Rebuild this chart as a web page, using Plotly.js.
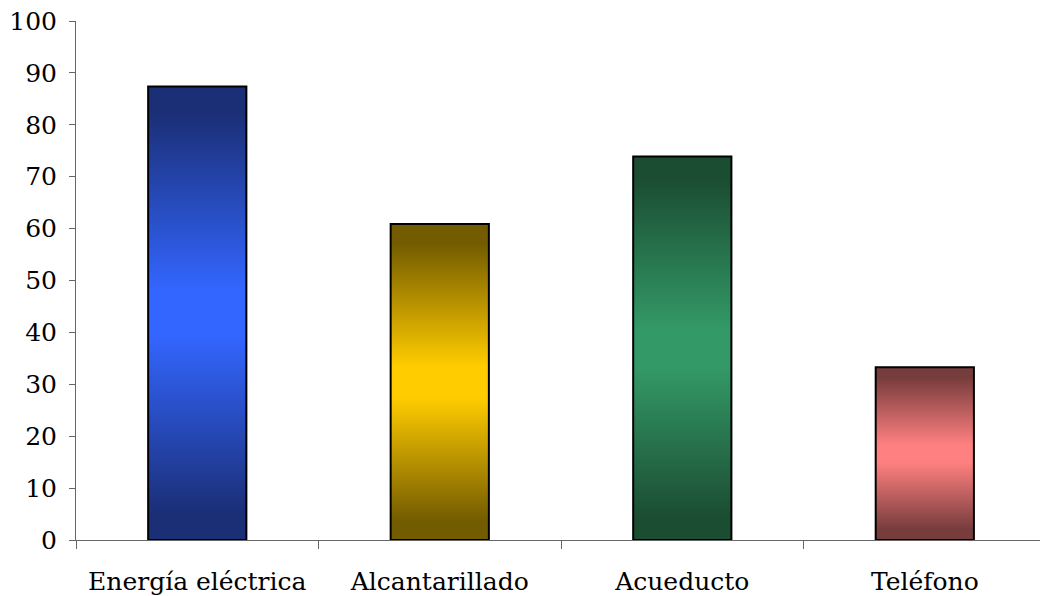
<!DOCTYPE html>
<html>
<head>
<meta charset="utf-8">
<script src="https://cdn.plot.ly/plotly-3.0.1.min.js"></script>
<style>html,body{margin:0;padding:0;background:#fff}#chart{width:1040px;height:596px}</style>
</head>
<body>
<div id="chart"></div>
<script>
const categories = ["Energía eléctrica", "Alcantarillado", "Acueducto", "Teléfono"];
const values = [87.4, 60.9, 73.9, 33.3];
const darkColors = ["#1b2f77", "#735b00", "#1b4d33", "#773c3c"];
const lightColors = ["#3366ff", "#ffcc00", "#339966", "#ff8080"];
const yTicks = [0, 10, 20, 30, 40, 50, 60, 70, 80, 90, 100];

const font = {family: "DejaVu Serif, serif", size: 25, color: "#000"};

const trace = {
  type: "bar",
  x: categories,
  y: values,
  width: 0.405,
  marker: {color: lightColors, line: {color: "#000", width: 2}},
  hoverinfo: "none"
};

const layout = {
  width: 1040, height: 596,
  margin: {l: 76, r: 0, t: 21, b: 56, pad: 0},
  paper_bgcolor: "#fff", plot_bgcolor: "#fff",
  showlegend: false,
  font: font,
  xaxis: {
    type: "category",
    range: [-0.5, 3.475],
    showline: true, linecolor: "#666", linewidth: 1,
    ticks: "outside", tickson: "boundaries", ticklen: 8, tickcolor: "#666", tickwidth: 1,
    ticklabelstandoff: 19,
    showgrid: false, zeroline: false,
    tickfont: font
  },
  yaxis: {
    range: [0, 100],
    tickvals: yTicks,
    ticktext: yTicks.map(String),
    showline: true, linecolor: "#666", linewidth: 1,
    ticks: "outside", ticklen: 6, tickcolor: "#666", tickwidth: 1,
    ticklabelstandoff: 7,
    showgrid: false, zeroline: false,
    tickfont: font
  }
};

Plotly.newPlot("chart", [trace], layout, {staticPlot: true, displayModeBar: false}).then(gd => {
  const svg = gd.querySelector("svg.main-svg");
  const ns = "http://www.w3.org/2000/svg";
  let defs = svg.querySelector("defs");
  if (!defs) { defs = document.createElementNS(ns, "defs"); svg.insertBefore(defs, svg.firstChild); }
  categories.forEach((c, i) => {
    const g = document.createElementNS(ns, "linearGradient");
    g.setAttribute("id", "barGrad" + i);
    g.setAttribute("x1", "0"); g.setAttribute("y1", "0");
    g.setAttribute("x2", "0"); g.setAttribute("y2", "1");
    [[0, darkColors[i]], [0.06, darkColors[i]], [0.45, lightColors[i]], [0.55, lightColors[i]], [0.94, darkColors[i]], [1, darkColors[i]]].forEach(([o, col]) => {
      const s = document.createElementNS(ns, "stop");
      s.setAttribute("offset", o);
      s.setAttribute("stop-color", col);
      g.appendChild(s);
    });
    defs.appendChild(g);
  });
  const paths = gd.querySelectorAll(".barlayer .point path");
  paths.forEach((p, i) => { p.style.fill = "url(#barGrad" + i + ")"; });
});
</script>
</body>
</html>
